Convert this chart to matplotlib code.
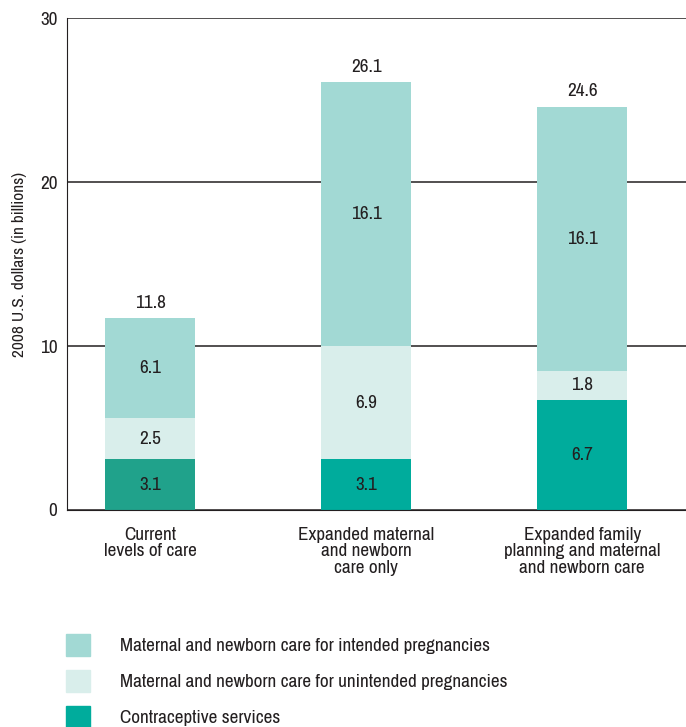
import numpy as np
import matplotlib.pyplot as plt
from matplotlib.patches import Patch

# --- DATA ---
scenarios = ['Current\nlevels of care',
             'Expanded maternal\nand newborn\ncare only',
             'Expanded family\nplanning and maternal\nand newborn care']
contraceptive = [3.1, 3.1, 6.7]
unintended = [2.5, 6.9, 1.8]
intended = [6.1, 16.1, 16.1]
totals = [11.8, 26.1, 24.6]
series_names = ['Maternal and newborn care for intended pregnancies',
                'Maternal and newborn care for unintended pregnancies',
                'Contraceptive services']
yticks = [0, 10, 20, 30]

# --- STYLE ---
plt.rcParams['font.family'] = ['Archivo Narrow', 'DejaVu Sans']
plt.rcParams['font.stretch'] = 'condensed'
C_INT = '#a2d9d4'
C_UNINT = '#d9eeeb'
C_CON = '#00ac9c'
C_CON_CUR = '#20a28b'
TXT = '#231f20'
FS = 13.8

fig = plt.figure(figsize=(6.86, 7.27), dpi=100)
ax = fig.add_axes([0.0977, 0.2985, 0.9023, 0.6765])

x = np.arange(len(scenarios))
w = 0.417
con_colors = [C_CON_CUR] + [C_CON] * (len(x) - 1)
b0 = np.zeros(len(x))
ax.bar(x, contraceptive, w, bottom=b0, color=con_colors, zorder=3)
b1 = b0 + np.array(contraceptive)
ax.bar(x, unintended, w, bottom=b1, color=C_UNINT, zorder=3)
b2 = b1 + np.array(unintended)
ax.bar(x, intended, w, bottom=b2, color=C_INT, zorder=3)
top = b2 + np.array(intended)

# segment values and totals
for i in range(len(x)):
    for bot, val in [(b0[i], contraceptive[i]), (b1[i], unintended[i]), (b2[i], intended[i])]:
        ax.text(x[i], bot + val / 2, f'{val:.1f}', ha='center', va='center',
                fontsize=FS, color=TXT, zorder=4)
    ax.text(x[i], top[i] + 0.45, f'{totals[i]:.1f}', ha='center', va='bottom',
            fontsize=FS, color=TXT, zorder=4)

ax.set_xlim(-0.384, 2.48)
ax.set_ylim(0, 30)
ax.set_yticks(yticks)
ax.set_xticks(x)
ax.set_xticklabels(scenarios, fontsize=FS, color=TXT, linespacing=1.05)
ax.tick_params(axis='y', length=0, pad=7, labelsize=FS, labelcolor=TXT)
ax.tick_params(axis='x', length=0, pad=12)
ax.grid(axis='y', color='#231f20', linewidth=1.1, zorder=1)
ax.set_axisbelow(True)
for s in ['top', 'right']:
    ax.spines[s].set_visible(False)
ax.spines['left'].set_color(TXT)
ax.spines['bottom'].set_color(TXT)
ax.spines['bottom'].set_zorder(5)
ax.set_ylabel('2008 U.S. dollars (in billions)', fontsize=12.5, color=TXT, labelpad=9)

handles = [Patch(color=C_INT), Patch(color=C_UNINT), Patch(color=C_CON)]
fig.legend(handles, series_names, loc='upper left', bbox_to_anchor=(0.096, 0.128),
           frameon=False, fontsize=FS, handlelength=1.25, handleheight=1.4,
           handletextpad=1.55, labelspacing=0.72, borderaxespad=0, borderpad=0,
           labelcolor=TXT)

fig.savefig('out.png', dpi=100)
